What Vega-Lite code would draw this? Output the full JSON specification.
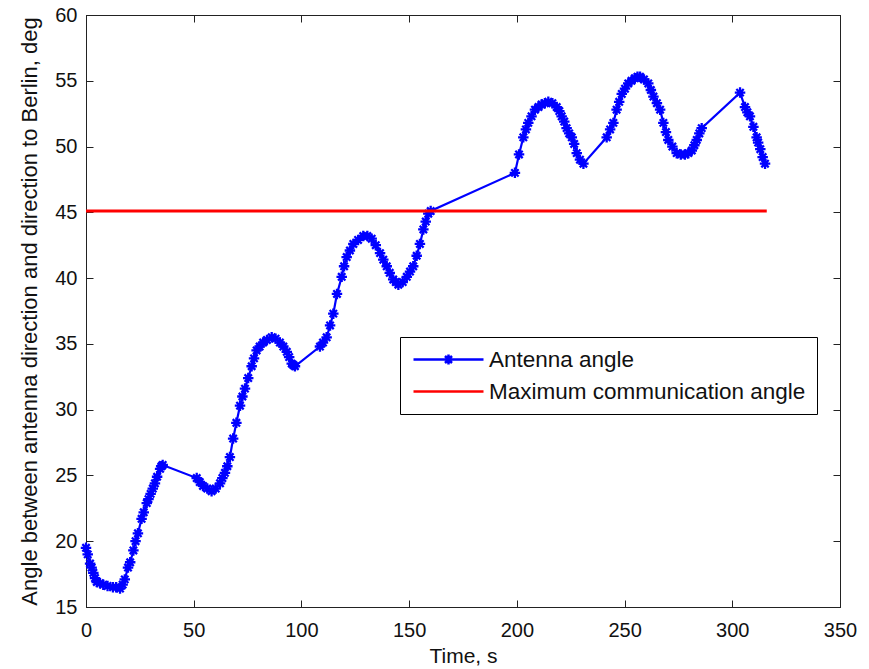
{
  "$schema": "https://vega.github.io/schema/vega-lite/v6.json",
  "width": 754,
  "height": 592,
  "autosize": {"type": "none"},
  "padding": {"left": 86, "top": 15, "right": 29, "bottom": 62},
  "background": "white",
  "config": {
    "view": {"stroke": "black", "strokeWidth": 1},
    "font": "Liberation Sans",
    "axis": {
      "grid": false,
      "domainColor": "#222222",
      "tickColor": "#222222",
      "labelColor": "#111111",
      "titleColor": "#111111",
      "labelFont": "Liberation Sans",
      "titleFont": "Liberation Sans",
      "labelFontSize": 20,
      "titleFontSize": 21,
      "titleFontWeight": "normal",
      "tickSize": -7,
      "tickWidth": 1,
      "domainWidth": 1
    }
  },
  "datasets": {
    "antenna": [
      {"t": 0, "v": 19.5, "series": "Antenna angle"},
      {"t": 0.8, "v": 19.0, "series": "Antenna angle"},
      {"t": 1.9, "v": 18.3, "series": "Antenna angle"},
      {"t": 2.6, "v": 18.0, "series": "Antenna angle"},
      {"t": 3.4, "v": 17.6, "series": "Antenna angle"},
      {"t": 4.2, "v": 17.2, "series": "Antenna angle"},
      {"t": 5, "v": 16.9, "series": "Antenna angle"},
      {"t": 6.5, "v": 16.8, "series": "Antenna angle"},
      {"t": 8, "v": 16.7, "series": "Antenna angle"},
      {"t": 10, "v": 16.6, "series": "Antenna angle"},
      {"t": 12.5, "v": 16.5, "series": "Antenna angle"},
      {"t": 14, "v": 16.5, "series": "Antenna angle"},
      {"t": 15.8, "v": 16.4, "series": "Antenna angle"},
      {"t": 17, "v": 16.7, "series": "Antenna angle"},
      {"t": 18, "v": 17.1, "series": "Antenna angle"},
      {"t": 19.5, "v": 18, "series": "Antenna angle"},
      {"t": 20.5, "v": 18.4, "series": "Antenna angle"},
      {"t": 22, "v": 19.3, "series": "Antenna angle"},
      {"t": 23, "v": 20.0, "series": "Antenna angle"},
      {"t": 24.1, "v": 20.6, "series": "Antenna angle"},
      {"t": 25.8, "v": 21.7, "series": "Antenna angle"},
      {"t": 26.8, "v": 22.2, "series": "Antenna angle"},
      {"t": 28.2, "v": 22.9, "series": "Antenna angle"},
      {"t": 29, "v": 23.2, "series": "Antenna angle"},
      {"t": 30, "v": 23.6, "series": "Antenna angle"},
      {"t": 31, "v": 24.0, "series": "Antenna angle"},
      {"t": 32, "v": 24.4, "series": "Antenna angle"},
      {"t": 33, "v": 24.9, "series": "Antenna angle"},
      {"t": 34.4, "v": 25.5, "series": "Antenna angle"},
      {"t": 35, "v": 25.7, "series": "Antenna angle"},
      {"t": 35.6, "v": 25.8, "series": "Antenna angle"},
      {"t": 51.4, "v": 24.8, "series": "Antenna angle"},
      {"t": 52.8, "v": 24.5, "series": "Antenna angle"},
      {"t": 54.3, "v": 24.2, "series": "Antenna angle"},
      {"t": 56.3, "v": 24.0, "series": "Antenna angle"},
      {"t": 58.3, "v": 23.8, "series": "Antenna angle"},
      {"t": 60.2, "v": 24.0, "series": "Antenna angle"},
      {"t": 62.2, "v": 24.4, "series": "Antenna angle"},
      {"t": 63.3, "v": 24.8, "series": "Antenna angle"},
      {"t": 64.5, "v": 25.2, "series": "Antenna angle"},
      {"t": 65.6, "v": 25.7, "series": "Antenna angle"},
      {"t": 66.8, "v": 26.4, "series": "Antenna angle"},
      {"t": 68.3, "v": 27.8, "series": "Antenna angle"},
      {"t": 69.8, "v": 29.0, "series": "Antenna angle"},
      {"t": 71.5, "v": 30.3, "series": "Antenna angle"},
      {"t": 72.6, "v": 31.0, "series": "Antenna angle"},
      {"t": 73.8, "v": 31.6, "series": "Antenna angle"},
      {"t": 75.3, "v": 32.4, "series": "Antenna angle"},
      {"t": 76.9, "v": 33.3, "series": "Antenna angle"},
      {"t": 78, "v": 33.9, "series": "Antenna angle"},
      {"t": 79.2, "v": 34.5, "series": "Antenna angle"},
      {"t": 80.6, "v": 34.8, "series": "Antenna angle"},
      {"t": 82.2, "v": 35.1, "series": "Antenna angle"},
      {"t": 84, "v": 35.3, "series": "Antenna angle"},
      {"t": 86.2, "v": 35.5, "series": "Antenna angle"},
      {"t": 88, "v": 35.4, "series": "Antenna angle"},
      {"t": 90, "v": 35.1, "series": "Antenna angle"},
      {"t": 91.6, "v": 34.8, "series": "Antenna angle"},
      {"t": 93.2, "v": 34.4, "series": "Antenna angle"},
      {"t": 94.3, "v": 34.0, "series": "Antenna angle"},
      {"t": 95.5, "v": 33.5, "series": "Antenna angle"},
      {"t": 96.2, "v": 33.4, "series": "Antenna angle"},
      {"t": 97, "v": 33.3, "series": "Antenna angle"},
      {"t": 108.6, "v": 34.8, "series": "Antenna angle"},
      {"t": 110, "v": 35.1, "series": "Antenna angle"},
      {"t": 111.7, "v": 35.5, "series": "Antenna angle"},
      {"t": 113.3, "v": 36.4, "series": "Antenna angle"},
      {"t": 114.8, "v": 37.3, "series": "Antenna angle"},
      {"t": 116.5, "v": 38.8, "series": "Antenna angle"},
      {"t": 118.7, "v": 40.1, "series": "Antenna angle"},
      {"t": 119.8, "v": 40.9, "series": "Antenna angle"},
      {"t": 121, "v": 41.6, "series": "Antenna angle"},
      {"t": 122.5, "v": 42.1, "series": "Antenna angle"},
      {"t": 124.1, "v": 42.6, "series": "Antenna angle"},
      {"t": 126.3, "v": 42.9, "series": "Antenna angle"},
      {"t": 128.7, "v": 43.2, "series": "Antenna angle"},
      {"t": 130.6, "v": 43.2, "series": "Antenna angle"},
      {"t": 132.6, "v": 43.0, "series": "Antenna angle"},
      {"t": 134.5, "v": 42.5, "series": "Antenna angle"},
      {"t": 136.5, "v": 41.9, "series": "Antenna angle"},
      {"t": 138, "v": 41.4, "series": "Antenna angle"},
      {"t": 139.6, "v": 40.9, "series": "Antenna angle"},
      {"t": 141, "v": 40.4, "series": "Antenna angle"},
      {"t": 142.6, "v": 39.9, "series": "Antenna angle"},
      {"t": 143.8, "v": 39.7, "series": "Antenna angle"},
      {"t": 145, "v": 39.5, "series": "Antenna angle"},
      {"t": 147, "v": 39.7, "series": "Antenna angle"},
      {"t": 148.9, "v": 40.1, "series": "Antenna angle"},
      {"t": 150.4, "v": 40.5, "series": "Antenna angle"},
      {"t": 151.9, "v": 40.9, "series": "Antenna angle"},
      {"t": 153.5, "v": 41.7, "series": "Antenna angle"},
      {"t": 155, "v": 42.6, "series": "Antenna angle"},
      {"t": 156.6, "v": 43.7, "series": "Antenna angle"},
      {"t": 157.7, "v": 44.3, "series": "Antenna angle"},
      {"t": 158.9, "v": 44.9, "series": "Antenna angle"},
      {"t": 160, "v": 45.1, "series": "Antenna angle"},
      {"t": 199.1, "v": 48, "series": "Antenna angle"},
      {"t": 201, "v": 49.4, "series": "Antenna angle"},
      {"t": 203, "v": 50.7, "series": "Antenna angle"},
      {"t": 204.2, "v": 51.3, "series": "Antenna angle"},
      {"t": 205.3, "v": 51.8, "series": "Antenna angle"},
      {"t": 206.8, "v": 52.3, "series": "Antenna angle"},
      {"t": 208.4, "v": 52.8, "series": "Antenna angle"},
      {"t": 210, "v": 53.0, "series": "Antenna angle"},
      {"t": 211.5, "v": 53.2, "series": "Antenna angle"},
      {"t": 213, "v": 53.3, "series": "Antenna angle"},
      {"t": 214.6, "v": 53.4, "series": "Antenna angle"},
      {"t": 216.5, "v": 53.3, "series": "Antenna angle"},
      {"t": 218.5, "v": 53.0, "series": "Antenna angle"},
      {"t": 219.7, "v": 52.7, "series": "Antenna angle"},
      {"t": 220.8, "v": 52.3, "series": "Antenna angle"},
      {"t": 222, "v": 51.9, "series": "Antenna angle"},
      {"t": 223.1, "v": 51.4, "series": "Antenna angle"},
      {"t": 224.3, "v": 51.0, "series": "Antenna angle"},
      {"t": 225.5, "v": 50.7, "series": "Antenna angle"},
      {"t": 226.6, "v": 50.2, "series": "Antenna angle"},
      {"t": 227.8, "v": 49.5, "series": "Antenna angle"},
      {"t": 229.3, "v": 49.0, "series": "Antenna angle"},
      {"t": 230.9, "v": 48.7, "series": "Antenna angle"},
      {"t": 241.7, "v": 50.7, "series": "Antenna angle"},
      {"t": 243.3, "v": 51.3, "series": "Antenna angle"},
      {"t": 244.8, "v": 51.8, "series": "Antenna angle"},
      {"t": 246.3, "v": 52.8, "series": "Antenna angle"},
      {"t": 247.5, "v": 53.4, "series": "Antenna angle"},
      {"t": 248.7, "v": 54.0, "series": "Antenna angle"},
      {"t": 250.2, "v": 54.4, "series": "Antenna angle"},
      {"t": 251.7, "v": 54.8, "series": "Antenna angle"},
      {"t": 253.2, "v": 55.0, "series": "Antenna angle"},
      {"t": 254.8, "v": 55.2, "series": "Antenna angle"},
      {"t": 256, "v": 55.3, "series": "Antenna angle"},
      {"t": 257.2, "v": 55.3, "series": "Antenna angle"},
      {"t": 259, "v": 55.1, "series": "Antenna angle"},
      {"t": 261, "v": 54.8, "series": "Antenna angle"},
      {"t": 262.2, "v": 54.3, "series": "Antenna angle"},
      {"t": 263.4, "v": 53.8, "series": "Antenna angle"},
      {"t": 265, "v": 53.3, "series": "Antenna angle"},
      {"t": 266.5, "v": 52.8, "series": "Antenna angle"},
      {"t": 268, "v": 51.8, "series": "Antenna angle"},
      {"t": 269.2, "v": 51.1, "series": "Antenna angle"},
      {"t": 270.3, "v": 50.5, "series": "Antenna angle"},
      {"t": 272.2, "v": 50.0, "series": "Antenna angle"},
      {"t": 274.2, "v": 49.5, "series": "Antenna angle"},
      {"t": 276.1, "v": 49.4, "series": "Antenna angle"},
      {"t": 278, "v": 49.4, "series": "Antenna angle"},
      {"t": 279.6, "v": 49.5, "series": "Antenna angle"},
      {"t": 281.2, "v": 49.7, "series": "Antenna angle"},
      {"t": 282.4, "v": 50.1, "series": "Antenna angle"},
      {"t": 283.5, "v": 50.5, "series": "Antenna angle"},
      {"t": 284.7, "v": 51.0, "series": "Antenna angle"},
      {"t": 285.8, "v": 51.4, "series": "Antenna angle"},
      {"t": 303.6, "v": 54.1, "series": "Antenna angle"},
      {"t": 305.9, "v": 53.0, "series": "Antenna angle"},
      {"t": 307, "v": 52.6, "series": "Antenna angle"},
      {"t": 308.2, "v": 52.3, "series": "Antenna angle"},
      {"t": 309.8, "v": 51.5, "series": "Antenna angle"},
      {"t": 311.3, "v": 50.7, "series": "Antenna angle"},
      {"t": 312, "v": 50.3, "series": "Antenna angle"},
      {"t": 313, "v": 49.8, "series": "Antenna angle"},
      {"t": 314.1, "v": 49.2, "series": "Antenna angle"},
      {"t": 315.2, "v": 48.7, "series": "Antenna angle"}
    ],
    "limit": [
      {"t": 0, "v": 45.1, "series": "Maximum communication angle"},
      {"t": 316, "v": 45.1, "series": "Maximum communication angle"}
    ]
  },
  "layer": [
    {
      "data": {"name": "antenna"},
      "mark": {"type": "line", "strokeWidth": 2.2},
      "encoding": {
        "x": {"field": "t", "type": "quantitative", "scale": {"domain": [0, 350], "nice": false, "zero": false},
              "axis": {"orient": "bottom", "values": [0, 50, 100, 150, 200, 250, 300, 350], "title": "Time, s", "labelPadding": 20, "titlePadding": 5, "labelFlush": false}},
        "y": {"field": "v", "type": "quantitative", "scale": {"domain": [15, 60], "nice": false, "zero": false},
              "axis": {"orient": "left", "values": [15, 20, 25, 30, 35, 40, 45, 50, 55, 60], "title": "Angle between antenna direction and direction to Berlin, deg", "titleFontSize": 22, "labelPadding": 16, "titlePadding": 13, "labelFlush": false}},
        "color": {"field": "series", "type": "nominal",
                  "scale": {"domain": ["Antenna angle", "Maximum communication angle"], "range": ["#0000ff", "#ff0000"]},
                  "legend": {
                    "title": null,
                    "orient": "none",
                    "legendX": 314,
                    "legendY": 322,
                    "strokeColor": "black",
                    "fillColor": "white",
                    "padding": 11,
                    "rowPadding": 9,
                    "labelFontSize": 22.5,
                    "labelFont": "Liberation Sans",
                    "labelColor": "#111111",
                    "labelLimit": 500,
                    "labelOffset": 55,
                    "symbolSize": 400,
                    "symbolStrokeWidth": 2.5,
                    "encode": {
                      "symbols": {
                        "update": {
                          "shape": {"signal": "datum.value === 'Antenna angle' ? 'M-0.9,0L6.1,0M2.15,0L3.05,0M2.6,-0.5L2.6,0.5M2.25,-0.35L2.95,0.35M2.25,0.35L2.95,-0.35' : 'M-0.9,0L6.1,0'"},
                          "fill": {"value": "transparent"},
                          "strokeWidth": {"value": 2.5}
                        }
                      }
                    }
                  }}
      }
    },
    {
      "data": {"name": "antenna"},
      "mark": {"type": "point", "shape": "M-1,0L1,0M0,-1L0,1M-0.7,-0.7L0.7,0.7M-0.7,0.7L0.7,-0.7", "filled": false, "size": 110, "strokeWidth": 2.3, "color": "#0000ff", "opacity": 1},
      "encoding": {
        "x": {"field": "t", "type": "quantitative", "scale": {"domain": [0, 350], "nice": false, "zero": false}, "axis": null},
        "y": {"field": "v", "type": "quantitative", "scale": {"domain": [15, 60], "nice": false, "zero": false}, "axis": null}
      }
    },
    {
      "data": {"name": "limit"},
      "mark": {"type": "line", "strokeWidth": 3},
      "encoding": {
        "x": {"field": "t", "type": "quantitative", "scale": {"domain": [0, 350], "nice": false, "zero": false},
              "axis": {"orient": "top", "values": [0, 50, 100, 150, 200, 250, 300, 350], "labels": false, "title": null}},
        "y": {"field": "v", "type": "quantitative", "scale": {"domain": [15, 60], "nice": false, "zero": false},
              "axis": {"orient": "right", "values": [15, 20, 25, 30, 35, 40, 45, 50, 55, 60], "labels": false, "title": null}},
        "color": {"field": "series", "type": "nominal"}
      }
    }
  ],
  "resolve": {"scale": {"x": "independent", "y": "independent"}}
}
